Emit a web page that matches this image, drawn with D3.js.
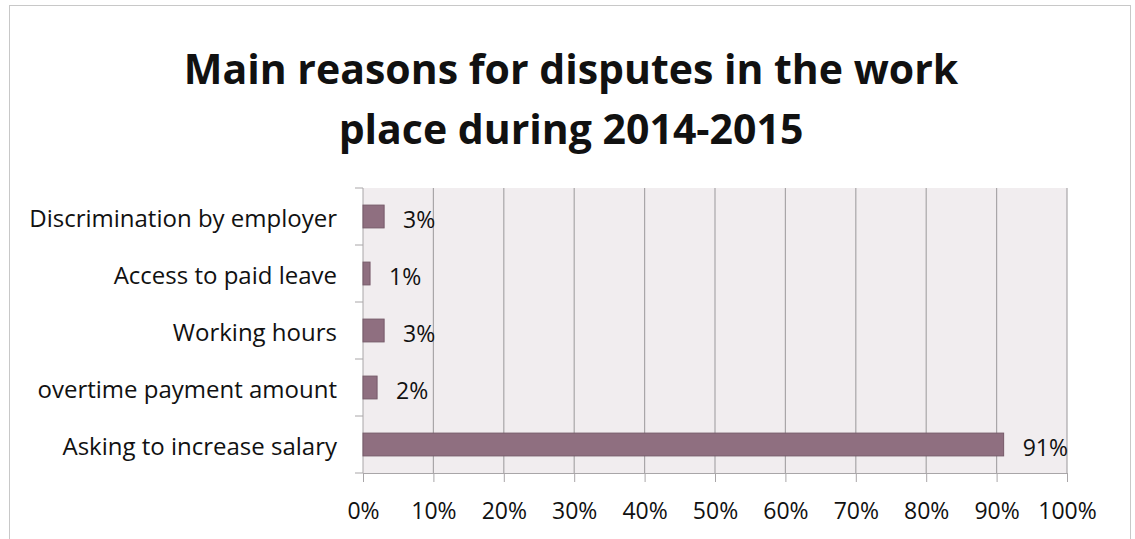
<!DOCTYPE html>
<html>
<head>
<meta charset="utf-8">
<script src="https://cdn.jsdelivr.net/npm/d3@7"></script>
<style>
    body { margin: 0; background: #fff; }
    text { font-family: "Open Sans", sans-serif; fill: #111; }
</style>
</head>
<body>
<div id="chart"></div>
<script>
// data
const categories = [
    "Discrimination by employer",
    "Access to paid leave",
    "Working hours",
    "overtime payment amount",
    "Asking to increase salary"
];
const values = [3, 1, 3, 2, 91];
const xTicks = [0, 10, 20, 30, 40, 50, 60, 70, 80, 90, 100];
const titleLines = ["Main reasons for disputes in the work", "place during 2014-2015"];

const width = 1135, height = 539;
const plot = {left: 363, right: 1067, top: 188, bottom: 473};

let svg = d3.select("#chart").append("svg")
    .attr("width", width)
    .attr("height", height);

// outer frame
svg.append("rect")
    .attr("x", 9.5).attr("y", 5.5)
    .attr("width", 1121).attr("height", 540)
    .attr("fill", "#fff")
    .attr("stroke", "#c8c8c8");

// title
svg.selectAll(".title")
    .data(titleLines)
    .enter().append("text")
    .attr("class", "title")
    .attr("x", 571)
    .attr("y", (d, i) => 84 + i * 60)
    .attr("text-anchor", "middle")
    .style("font-size", "41px")
    .style("font-weight", "bold")
    .text(d => d);

// scales
let x = d3.scaleLinear()
    .domain([0, 100])
    .range([plot.left, plot.right]);

let y = d3.scaleBand()
    .domain(categories)
    .range([plot.top, plot.bottom])
    .paddingInner(0.6)
    .paddingOuter(0.3);

// plot background
svg.append("rect")
    .attr("x", plot.left).attr("y", plot.top)
    .attr("width", plot.right - plot.left)
    .attr("height", plot.bottom - plot.top)
    .attr("fill", "#f1edef");

// gridlines
svg.selectAll(".grid")
    .data(xTicks.slice(1))
    .enter().append("line")
    .attr("class", "grid")
    .attr("x1", d => x(d)).attr("x2", d => x(d))
    .attr("y1", plot.top).attr("y2", plot.bottom)
    .attr("stroke", "#a9a6a8")
    .attr("stroke-width", 1.2);

// x axis
let xAxis = d3.axisBottom(x)
    .tickValues(xTicks)
    .tickFormat(d => d + "%")
    .tickSize(9)
    .tickPadding(21);

let gx = svg.append("g")
    .attr("transform", `translate(0, ${plot.bottom})`)
    .call(xAxis);
gx.select(".domain").attr("stroke", "#a9a6a8");
gx.selectAll(".tick line").attr("stroke", "#a9a6a8");
gx.selectAll("text").style("font-size", "23px").attr("fill", "#111");

// y axis: ticks at band boundaries
let boundaries = d3.range(categories.length + 1).map(i => plot.top + i * (plot.bottom - plot.top) / categories.length);
svg.append("line")
    .attr("x1", plot.left).attr("x2", plot.left)
    .attr("y1", plot.top).attr("y2", plot.bottom)
    .attr("stroke", "#a9a6a8");
svg.selectAll(".ytick")
    .data(boundaries)
    .enter().append("line")
    .attr("class", "ytick")
    .attr("x1", plot.left - 8).attr("x2", plot.left)
    .attr("y1", d => d).attr("y2", d => d)
    .attr("stroke", "#a9a6a8");

// category labels
svg.selectAll(".cat")
    .data(categories)
    .enter().append("text")
    .attr("class", "cat")
    .attr("x", 337)
    .attr("y", d => y(d) + y.bandwidth() / 2 + 2)
    .attr("dy", "0.35em")
    .attr("text-anchor", "end")
    .style("font-size", "24px")
    .text(d => d);

// bars
svg.selectAll(".bar")
    .data(values)
    .enter().append("rect")
    .attr("class", "bar")
    .attr("x", x(0))
    .attr("y", (d, i) => y(categories[i]))
    .attr("width", d => x(d) - x(0))
    .attr("height", y.bandwidth())
    .attr("fill", "#8f6f80")
    .attr("stroke", "#765a69")
    .attr("stroke-width", 1);

// value labels
svg.selectAll(".val")
    .data(values)
    .enter().append("text")
    .attr("class", "val")
    .attr("x", d => x(d) + 19)
    .attr("y", (d, i) => y(categories[i]) + y.bandwidth() / 2 + 3)
    .attr("dy", "0.35em")
    .style("font-size", "23px")
    .text(d => d + "%");
</script>
</body>
</html>
